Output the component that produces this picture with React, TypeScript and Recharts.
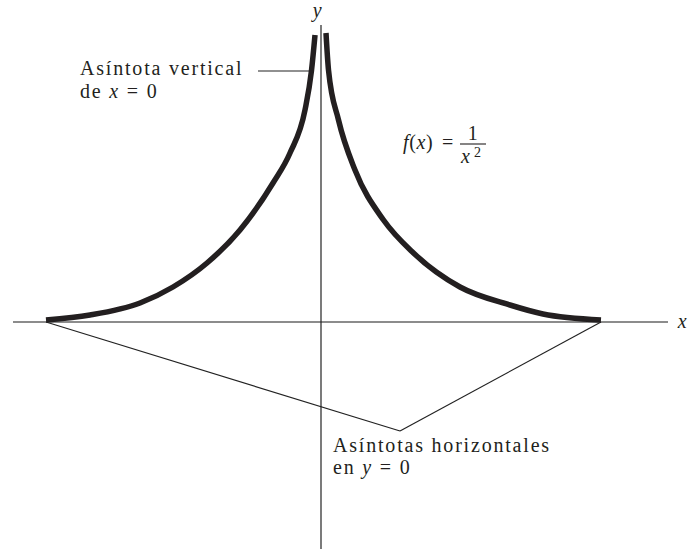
import { ComposedChart, Line, XAxis, YAxis, ReferenceLine } from 'recharts';

// plot window in data units (1 unit = 50px, origin at the axes crossing)
const X_MIN = -6.42;
const X_MAX = 7.42;
const Y_MIN = -4.54;
const Y_MAX = 6.44;

// left branch of f(x) = 1/x^2
const leftBranch = [
  { x: -5.5, y: 0.04 },
  { x: -4.62, y: 0.14 },
  { x: -3.62, y: 0.38 },
  { x: -2.96, y: 0.7 },
  { x: -2.28, y: 1.18 },
  { x: -1.62, y: 1.84 },
  { x: -0.96, y: 2.78 },
  { x: -0.62, y: 3.38 },
  { x: -0.32, y: 4.24 },
  { x: -0.19, y: 5.03 },
  { x: -0.12, y: 5.74 },
];

// right branch
const rightBranch = [
  { x: 0.1, y: 5.78 },
  { x: 0.15, y: 5.04 },
  { x: 0.35, y: 4.04 },
  { x: 0.68, y: 3.04 },
  { x: 1.25, y: 2.04 },
  { x: 1.85, y: 1.38 },
  { x: 2.78, y: 0.7 },
  { x: 3.78, y: 0.34 },
  { x: 4.44, y: 0.16 },
  { x: 5.6, y: 0.04 },
];

// axes and leader lines
const xAxisSpan = [-6.16, 6.94];
const yAxisSpan = [-4.54, 5.94];
const leaderVertex = { x: 1.58, y: -2.18 };
const leftEnd = { x: -5.5, y: 0 };
const rightEnd = { x: 5.6, y: 0 };
const verticalLeader = { x1: -1.26, x2: -0.22, y: 5.02 };

const ink = '#231f20';
// Century Schoolbook is not available; a spaced-out Times stands in for it
const textStyle = { fontFamily: "'Liberation Serif', serif", letterSpacing: 1.8 };
const formulaStyle = { fontFamily: "'Liberation Serif', serif", letterSpacing: 0.6 };

export default function App() {
  return (
    <div style={{ position: 'absolute', left: 0, top: 0, width: 692, height: 549, background: '#fff' }}>
      <ComposedChart width={692} height={549} margin={{ top: 0, right: 0, bottom: 0, left: 0 }}>
        <XAxis type="number" dataKey="x" domain={[X_MIN, X_MAX]} hide allowDataOverflow />
        <YAxis type="number" dataKey="y" domain={[Y_MIN, Y_MAX]} hide allowDataOverflow />
        <ReferenceLine
          segment={[{ x: xAxisSpan[0], y: 0 }, { x: xAxisSpan[1], y: 0 }]}
          stroke="#666"
          strokeWidth={1.6}
        />
        <ReferenceLine
          segment={[{ x: 0, y: yAxisSpan[0] }, { x: 0, y: yAxisSpan[1] }]}
          stroke="#222"
          strokeWidth={1.2}
        />
        <ReferenceLine segment={[leftEnd, leaderVertex]} stroke="#222" strokeWidth={1.2} />
        <ReferenceLine segment={[leaderVertex, rightEnd]} stroke="#222" strokeWidth={1.2} />
        <ReferenceLine
          segment={[
            { x: verticalLeader.x1, y: verticalLeader.y },
            { x: verticalLeader.x2, y: verticalLeader.y },
          ]}
          stroke="#222"
          strokeWidth={1.2}
        />
        <Line
          data={leftBranch}
          dataKey="y"
          type="monotone"
          dot={false}
          activeDot={false}
          stroke={ink}
          strokeWidth={5.5}
          isAnimationActive={false}
        />
        <Line
          data={rightBranch}
          dataKey="y"
          type="monotone"
          dot={false}
          activeDot={false}
          stroke={ink}
          strokeWidth={5.5}
          isAnimationActive={false}
        />
      </ComposedChart>

      <svg
        width={692}
        height={549}
        style={{ position: 'absolute', left: 0, top: 0, pointerEvents: 'none' }}
        fill={ink}
      >
        <g style={textStyle}>
          <text x={318} y={17} fontSize={20} fontStyle="italic" textAnchor="middle">y</text>
          <text x={683} y={328} fontSize={20} fontStyle="italic" textAnchor="middle">x</text>

          <text x={80} y={75} fontSize={20}>Asíntota vertical</text>
          <text x={80} y={98} fontSize={20}>
            de <tspan fontStyle="italic">x</tspan> = 0
          </text>

          <text x={333} y={452} fontSize={20}>Asíntotas horizontales</text>
          <text x={333} y={474} fontSize={20}>
            en <tspan fontStyle="italic">y</tspan> = 0
          </text>
        </g>

        <g style={formulaStyle}>
          <text x={403} y={149} fontSize={20}>
            <tspan fontStyle="italic">f</tspan>(<tspan fontStyle="italic">x</tspan>)
          </text>
          <text x={442} y={149} fontSize={20}>=</text>
          <text x={473} y={140} fontSize={20} textAnchor="middle">1</text>
          <line x1={460} x2={486} y1={144} y2={144} stroke={ink} strokeWidth={1.1} />
          <text x={461} y={163} fontSize={20} fontStyle="italic">x</text>
          <text x={474} y={157} fontSize={14}>2</text>
        </g>
      </svg>
    </div>
  );
}
